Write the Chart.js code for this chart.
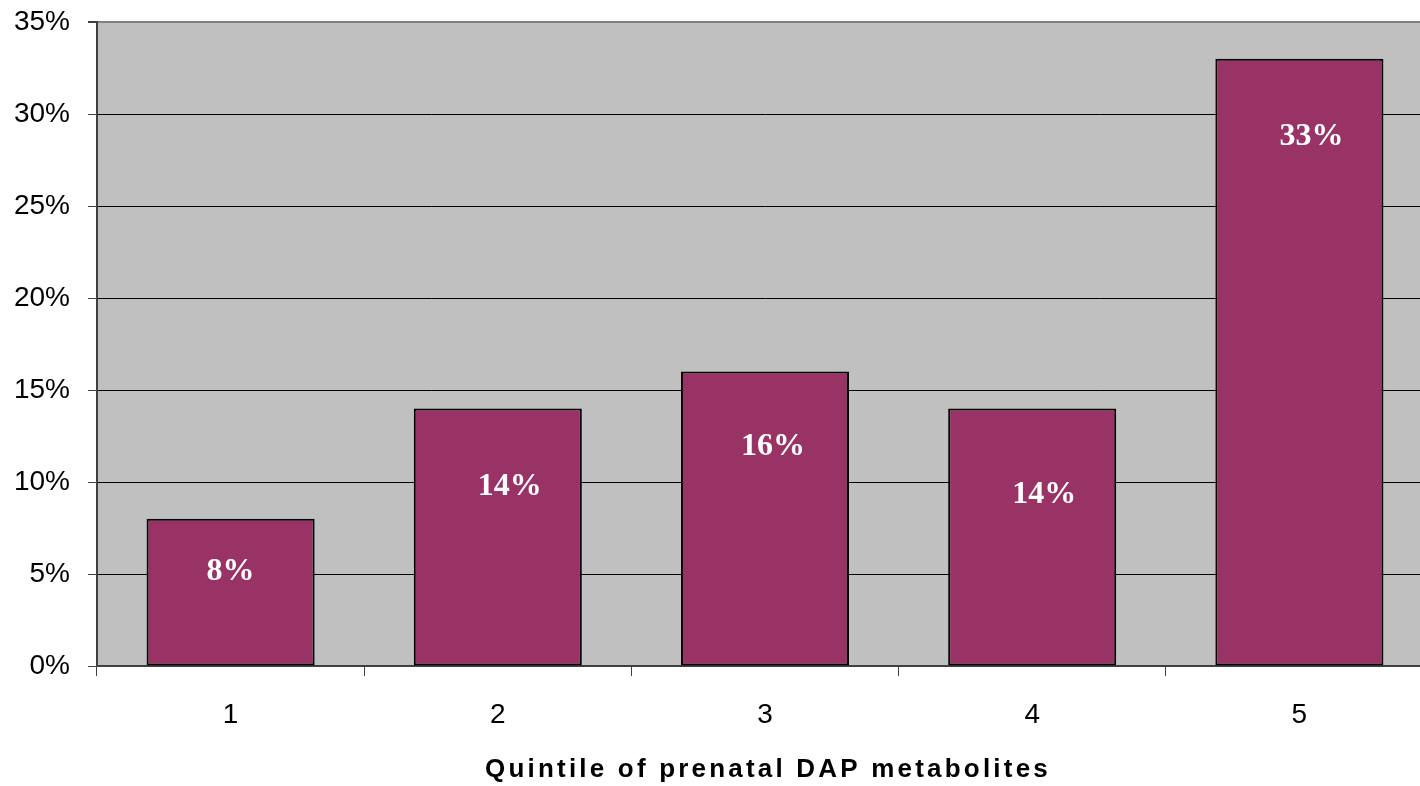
<!DOCTYPE html>
<html>
<head>
<meta charset="utf-8">
<script src="https://cdn.jsdelivr.net/npm/chart.js@4.4.1/dist/chart.umd.min.js"></script>
<style>
  html, body { margin: 0; padding: 0; background: #fff; overflow: hidden; }
  /* the plot runs a little past the right edge of the window, as in the original */
  #wrap { width: 1433px; height: 786px; position: relative; }
</style>
</head>
<body>
<div id="wrap"><canvas id="chart"></canvas></div>
<script>
const quintiles = ["1", "2", "3", "4", "5"];
const percentValues = [8, 14, 16, 14, 33];
const barLabels = ["8%", "14%", "16%", "14%", "33%"];
const xTitle = "Quintile of prenatal DAP metabolites";

// baseline of each data label, relative to the bar top / centre (px)
const labelDy = [61, 87, 83, 95, 86];
const labelDx = [0, 12, 8, 12, 12];

const plotBg = {
  id: "plotBg",
  beforeDraw(chart) {
    const { ctx, chartArea: { left, top, width, height } } = chart;
    ctx.save();
    ctx.fillStyle = "#c0c0c0";
    ctx.fillRect(left, top, width, height);
    ctx.restore();
  }
};

const barText = {
  id: "barText",
  afterDatasetsDraw(chart) {
    const { ctx } = chart;
    const meta = chart.getDatasetMeta(0);
    ctx.save();
    ctx.fillStyle = "#ffffff";
    ctx.font = "bold 32px 'Liberation Serif', 'Times New Roman', serif";
    ctx.textAlign = "center";
    ctx.textBaseline = "alphabetic";
    meta.data.forEach((bar, i) => {
      ctx.fillText(barLabels[i], bar.x + labelDx[i], bar.y + labelDy[i]);
    });
    ctx.restore();
  }
};

// axis title drawn by hand so it can get the wide letter spacing of the original
const spacedTitle = {
  id: "spacedTitle",
  afterDraw(chart) {
    const { ctx, chartArea: { left, right } } = chart;
    ctx.save();
    ctx.fillStyle = "#000";
    ctx.font = "bold 26px 'Liberation Sans', Arial, sans-serif";
    ctx.letterSpacing = "3.2px";
    ctx.textAlign = "center";
    ctx.textBaseline = "middle";
    ctx.fillText(xTitle, (left + right) / 2 + 3, 770);
    ctx.restore();
  }
};

new Chart(document.getElementById("chart"), {
  type: "bar",
  data: {
    labels: quintiles,
    datasets: [{
      data: percentValues,
      backgroundColor: "#993366",
      borderColor: "#000000",
      borderWidth: 2,
      borderSkipped: false,
      categoryPercentage: 1,
      barPercentage: 0.629
    }]
  },
  options: {
    responsive: true,
    maintainAspectRatio: false,
    animation: false,
    devicePixelRatio: 1,
    layout: { padding: { left: 0, right: 0, top: 22, bottom: 0 } },
    plugins: {
      legend: { display: false },
      tooltip: { enabled: false }
    },
    scales: {
      x: {
        offset: true,
        grid: {
          offset: true,
          drawOnChartArea: false,
          drawTicks: true,
          tickLength: 10,
          tickColor: "#404040"
        },
        border: { display: true, color: "#404040", width: 2 },
        ticks: {
          color: "#000",
          padding: 22,
          font: { family: "'Liberation Sans', Arial, sans-serif", size: 28 }
        },
        afterFit(scale) {
          scale.height = 120;
          scale.paddingLeft = 0;
          scale.paddingRight = 0;
        }
      },
      y: {
        min: 0,
        max: 35,
        grid: {
          color: ctx => (ctx.tick && ctx.tick.value === 35 ? "#808080" : "#000000"),
          lineWidth: ctx => (ctx.tick && ctx.tick.value === 35 ? 2 : 1),
          tickLength: 9,
          tickColor: "#404040"
        },
        border: { display: true, color: "#404040", width: 2 },
        ticks: {
          stepSize: 5,
          color: "#000",
          padding: 18,
          callback: v => v + "%",
          font: { family: "'Liberation Sans', Arial, sans-serif", size: 28 }
        },
        afterFit(scale) {
          scale.width = 97;
          scale.paddingTop = 0;
          scale.paddingBottom = 0;
        }
      }
    }
  },
  plugins: [plotBg, barText, spacedTitle]
});
</script>
</body>
</html>
